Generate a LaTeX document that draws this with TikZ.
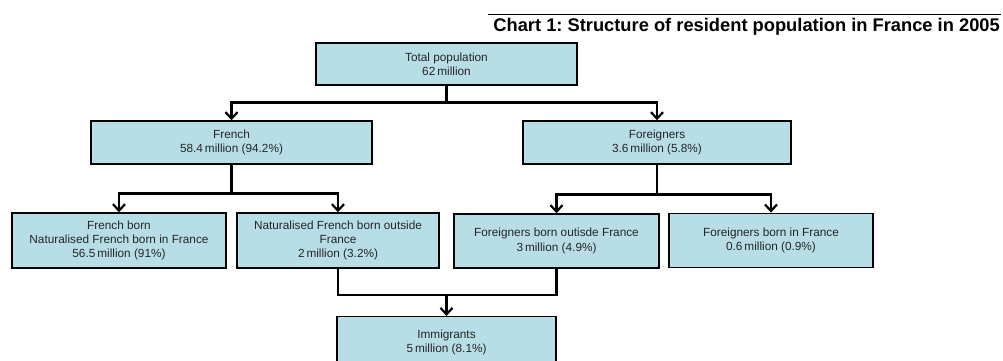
\documentclass[tikz,border=0pt]{standalone}
\usepackage{fontspec}
\setmainfont{Liberation Sans}
\usetikzlibrary{arrows.meta}
\definecolor{boxblue}{RGB}{183,221,230}
\definecolor{txtgray}{RGB}{38,38,38}
\frenchspacing
\tikzset{
  box/.style={draw=black,line width=1.4pt,fill=boxblue,inner sep=0pt,align=center,
    text=txtgray,font=\fontsize{11.8}{14.2}\selectfont},
  link/.style={line width=2.6pt,line join=miter},
  arr/.style={link,-{Straight Barb[length=6.5pt,width=12pt,line width=2.2pt]}},
  ttl/.style={font=\fontsize{18.3}{20}\selectfont\bfseries,inner sep=0pt}
}
\begin{document}
\begin{tikzpicture}[x=1pt,y=-1pt]
  \clip (0,0) rectangle (1003,361);
  % heading
  \draw[line width=1pt] (488,15) -- (1001,15);
  \node[ttl,anchor=base east] (title) at (1000,31.7) {Chart 1: Structure of resident population in France in 2005};
  % boxes
  \node[box,minimum width=261pt,minimum height=42pt] (total) at (446.5,64) {Total population\\62\,million};
  \node[box,minimum width=281pt,minimum height=43pt] (french) at (231.5,142.5) {French\\58.4\,million (94.2\%)};
  \node[box,minimum width=268pt,minimum height=43pt] (foreign) at (657,142.5) {Foreigners\\3.6\,million (5.8\%)};
  \node[box,minimum width=214pt,minimum height=55pt] (fborn) at (119,240.5) {French born\\Naturalised French born in France\\56.5\,million (91\%)};
  \node[box,minimum width=202pt,minimum height=55pt] (natout) at (338,240.5) {Naturalised French born outside\\France\\2\,million (3.2\%)};
  \node[box,minimum width=205pt,minimum height=54pt] (forout) at (556.5,241) {Foreigners born outisde France\\3\,million (4.9\%)};
  \node[box,minimum width=204pt,minimum height=54pt] (forin) at (771,240.3) {Foreigners born in France\\0.6\,million (0.9\%)};
  \node[box,minimum width=219pt,minimum height=51.4pt,anchor=north] (immig) at (446.5,316) {Immigrants\\5\,million (8.1\%)};
  % links
  \draw[arr] (total.south) -- ++(0,16.7) -| (french.north);
  \draw[arr] (total.south) -- ++(0,16.7) -| (foreign.north);
  \draw[arr] (french.south) -- ++(0,29) -| (fborn.north);
  \draw[arr] (french.south) -- ++(0,29) -| (natout.north);
  \draw[arr] (foreign.south) -- ++(0,30) -| (forout.north);
  \draw[arr] (foreign.south) -- ++(0,30) -| (forin.north);
  \coordinate (join) at (446.5,295);
  \draw[link] (natout.south) |- (join) -| (forout.south);
  \draw[arr] (join) -- (immig.north);
\end{tikzpicture}
\end{document}
